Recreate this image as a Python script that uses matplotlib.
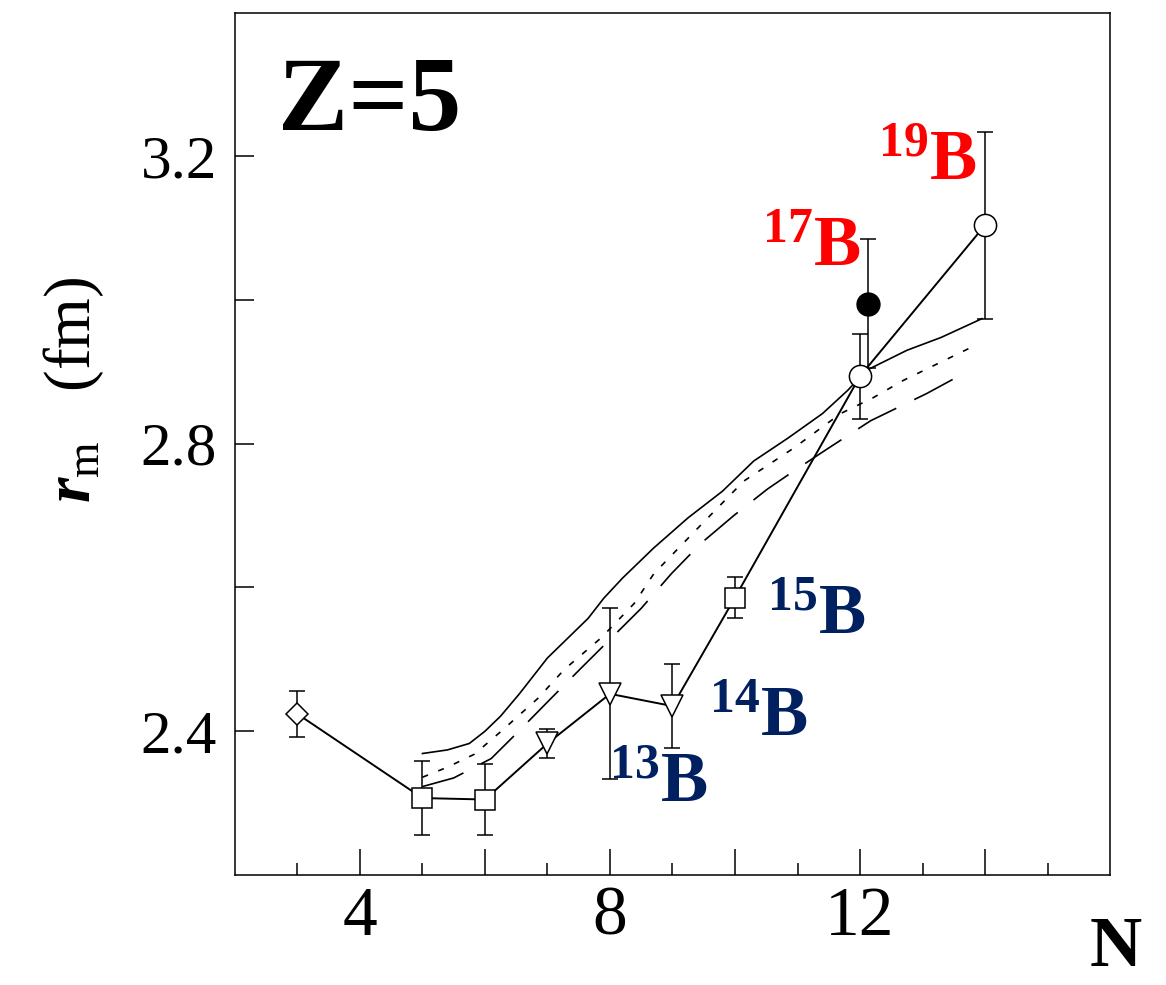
import matplotlib
matplotlib.use("Agg")
from matplotlib import pyplot as plt

# neutron number N and matter radius r_m (fm) for boron isotopes
N_exp = [3, 5, 6, 7, 8, 9, 10, 12, 14]
r_exp = [2.424, 2.307, 2.305, 2.383, 2.452, 2.435, 2.586, 2.894, 3.104]
dr_exp = [0.032, 0.051, 0.050, 0.020, 0.119, 0.058, 0.029, 0.059, 0.130]
marks = ['D', 's', 's', 'v', 'v', 'v', 's', 'o', 'o']

# second measurement for 17B (filled circle, shifted a bit to the right)
N_alt = [12.12]
r_alt = [2.995]
dr_alt = [0.090]

# theory curves
solid_N = [5.0, 5.4, 5.75, 6.0, 6.25, 6.55, 7.0, 7.65, 7.9, 8.2, 8.7, 9.25, 9.8,
           10.3, 10.85, 11.4, 11.8, 12.1, 12.75, 13.3, 13.95]
solid_r = [2.369, 2.374, 2.383, 2.400, 2.421, 2.452, 2.502, 2.557, 2.585, 2.613,
           2.655, 2.697, 2.734, 2.776, 2.808, 2.842, 2.874, 2.902, 2.930, 2.948, 2.974]
dot_N = [5.0, 5.4, 5.83, 6.26, 6.85, 7.27, 7.86, 8.39, 8.7, 9.41, 10.14, 10.94,
         11.69, 12.21, 12.69, 13.28, 13.8]
dot_r = [2.336, 2.350, 2.368, 2.400, 2.446, 2.486, 2.530, 2.578, 2.619, 2.683,
         2.748, 2.794, 2.842, 2.864, 2.888, 2.913, 2.935]
dash_N = [5.0, 5.5, 6.1, 6.54, 7.06, 7.54, 8.13, 8.5, 8.98, 9.45, 9.98, 10.52,
          10.94, 11.48, 12.17, 13.07, 13.6]
dash_r = [2.323, 2.335, 2.362, 2.400, 2.446, 2.488, 2.539, 2.571, 2.619, 2.661,
          2.700, 2.737, 2.762, 2.793, 2.832, 2.870, 2.895]

x_major = [4, 6, 8, 10, 12, 14]
x_labels = ['4', '', '8', '', '12', '']
x_minor = [3, 5, 7, 9, 11, 13, 15]
y_major = [2.4, 2.8, 3.2]
y_minor = [2.6, 3.0]

plt.rcParams['font.family'] = 'Liberation Serif'
plt.rcParams['mathtext.fontset'] = 'custom'
plt.rcParams['mathtext.rm'] = 'Liberation Serif'
plt.rcParams['mathtext.bf'] = 'Liberation Serif:bold'
plt.rcParams['mathtext.it'] = 'Liberation Serif:italic:bold'

red = '#FF0000'
navy = '#002060'

fig = plt.figure(figsize=(11.66, 9.85), dpi=100)
ax = fig.add_axes([0.2015, 0.1117, 0.7505, 0.8756])

# theory
ax.plot(solid_N, solid_r, color='black', lw=1.2, zorder=1)
ax.plot(dot_N, dot_r, color='black', lw=1.2, ls=(0, (3.6, 6.6)), zorder=1)
ax.plot(dash_N, dash_r, color='black', lw=1.2, ls=(0, (26, 12)), zorder=1)

# experiment
ax.plot(N_exp, r_exp, color='black', lw=1.4, zorder=2)
ax.errorbar(N_exp, r_exp, yerr=dr_exp, fmt='none', ecolor='black',
            elinewidth=1.1, capsize=6, capthick=1.1, zorder=3)
ax.errorbar(N_alt, r_alt, yerr=dr_alt, fmt='none', ecolor='black',
            elinewidth=1.1, capsize=6, capthick=1.1, zorder=3)
sizes = {'D': 11, 's': 14.5, 'v': 16, 'o': 16}
for n, r, m in zip(N_exp, r_exp, marks):
    ax.plot([n], [r], marker=m, ms=sizes[m], mfc='white', mec='black',
            mew=1.1, ls='none', zorder=4)
ax.plot(N_alt, r_alt, marker='o', ms=16.5, mfc='black', mec='black',
        ls='none', zorder=4)

# isotope labels
ax.text(12.29, 3.167, r'$\mathbf{^{19}B}$', color=red, fontsize=51,
        ha='left', va='baseline')
ax.text(10.44, 3.048, r'$\mathbf{^{17}B}$', color=red, fontsize=51,
        ha='left', va='baseline')
ax.text(10.52, 2.535, r'$\mathbf{^{15}B}$', color=navy, fontsize=51,
        ha='left', va='baseline')
ax.text(9.58, 2.393, r'$\mathbf{^{14}B}$', color=navy, fontsize=51,
        ha='left', va='baseline')
ax.text(7.99, 2.302, r'$\mathbf{^{13}B}$', color=navy, fontsize=51,
        ha='left', va='baseline')

ax.text(0.049, 0.864, 'Z=5', transform=ax.transAxes, fontsize=76,
        fontweight='bold', ha='left', va='baseline')

ax.set_xlim(2, 16)
ax.set_ylim(2.2, 3.4)
ax.set_xticks(x_major, x_labels)
ax.set_xticks(x_minor, minor=True)
ax.set_yticks(y_major, [f'{v:.1f}' for v in y_major])
ax.set_yticks(y_minor, minor=True)

ax.tick_params(axis='x', which='major', direction='in', length=18.5, width=1.1,
               labelsize=50, pad=8)
ax.tick_params(axis='x', which='minor', direction='in', length=8.5, width=1.1)
ax.tick_params(axis='y', which='both', direction='in', length=13.5, width=1.1,
               labelsize=44, pad=13)
for s in ax.spines.values():
    s.set_linewidth(1.1)

ax.set_xlabel('N', fontsize=52, fontweight='bold', ha='center', va='baseline')
ax.xaxis.set_label_coords(1.007, -0.106)
ax.set_ylabel(r'$r_{\rm m}$   (fm)', fontsize=47, va='center')
ax.yaxis.set_label_coords(-0.185, 0.562)

fig.savefig('out.png', dpi=100)
